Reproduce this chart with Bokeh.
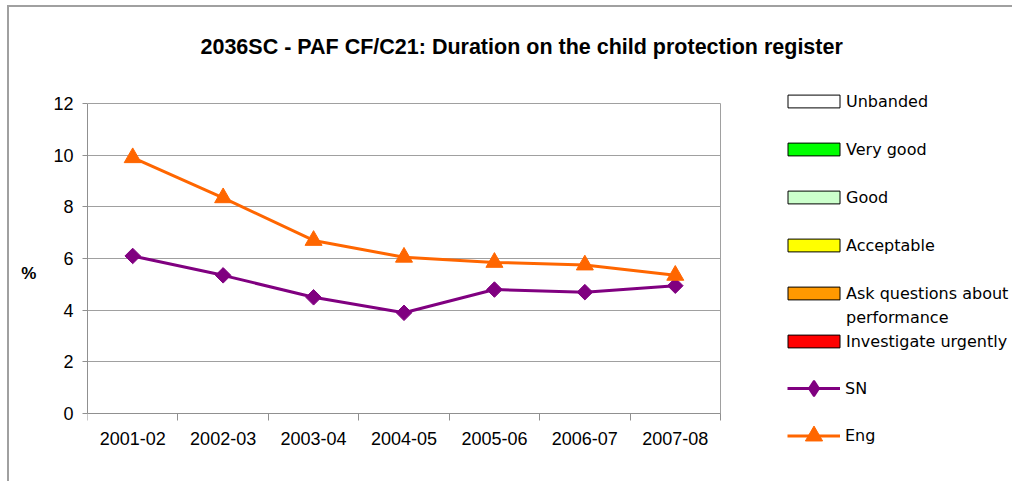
import numpy as np
from bokeh.plotting import figure
from bokeh.models import Range1d, FixedTicker, Legend, LegendItem
from bokeh.embed import file_html
from bokeh.resources import INLINE

# ---- data ----
years = ["2001-02", "2002-03", "2003-04", "2004-05", "2005-06", "2006-07", "2007-08"]
sn = [6.1, 5.35, 4.5, 3.9, 4.8, 4.7, 4.95]
eng = [9.9, 8.35, 6.7, 6.05, 5.85, 5.75, 5.35]
y_ticks = [0, 2, 4, 6, 8, 10, 12]
bands = ["Unbanded", "Very good", "Good", "Acceptable",
         "Ask questions about\nperformance", "Investigate urgently"]
band_colors = ["#FFFFFF", "#00FF00", "#CCFFCC", "#FFFF00", "#FF9900", "#FF0000"]
title_text = "2036SC - PAF CF/C21: Duration on the child protection register"

ORANGE = "#FF6600"
PURPLE = "#800080"
GRID = "#a0a0a0"
AXIS = "#909090"

n = len(years)
xs = [i + 0.5 for i in range(n)]
y_lo, y_hi = y_ticks[0], y_ticks[-1]

# ---- layout constants (pixels on the canvas) ----
W, H = 1005, 476
FL, FT, FB = 78, 75, 456          # frame left / top / bottom
AREA_W = 633                      # plot-area width (x 0..n)
AREA_TOP, AREA_BOT = 95, 406      # plot-area y of top tick and zero
ppu_y = (AREA_BOT - AREA_TOP) / (y_hi - y_lo)
y_start = y_lo - (FB - AREA_BOT) / ppu_y
y_end = y_hi + (AREA_TOP - FT) / ppu_y
x_end = n * (W - FL) / AREA_W

p = figure(width=W, height=H, output_backend="svg", toolbar_location=None,
           x_range=Range1d(0, x_end), y_range=Range1d(y_start, y_end),
           min_border_left=FL, min_border_right=0, min_border_top=FT,
           min_border_bottom=H - FB, title=title_text)
p.styles = {"border-left": "2px solid #a0a0a0", "border-top": "2px solid #a0a0a0",
            "margin-left": "7px", "margin-top": "5px"}
p.background_fill_color = "white"
p.border_fill_color = "white"
p.outline_line_color = None

p.title.text_font = "Liberation Sans"
p.title.text_font_size = "21.5px"
p.title.text_font_style = "bold"
p.title.text_color = "black"
p.title.align = "left"
p.title.offset = 113
p.title.standoff = 50

# x axis (fixed at y = 0, limited to the plot area)
p.xaxis.fixed_location = y_lo
p.xaxis.bounds = (0, n)
p.xaxis.ticker = FixedTicker(ticks=xs, minor_ticks=list(range(n + 1)))
p.xaxis.major_label_overrides = {x: y for x, y in zip(xs, years)}
p.xaxis.major_tick_out = 0
p.xaxis.major_tick_in = 0
p.xaxis.minor_tick_out = 7
p.xaxis.minor_tick_in = 0
p.xaxis.minor_tick_line_color = AXIS
p.xaxis.axis_line_color = AXIS
p.xaxis.major_label_standoff = 11

# y axis
p.yaxis.bounds = (y_lo, y_hi)
p.yaxis.ticker = FixedTicker(ticks=y_ticks)
p.yaxis.major_tick_out = 5
p.yaxis.major_tick_in = 0
p.yaxis.minor_tick_out = 0
p.yaxis.minor_tick_in = 0
p.yaxis.major_tick_line_color = AXIS
p.yaxis.axis_line_color = AXIS
p.yaxis.major_label_standoff = 9
p.yaxis.axis_label = "%"
p.yaxis.axis_label_text_font = "Liberation Sans"
p.yaxis.axis_label_text_font_size = "17px"
p.yaxis.axis_label_text_font_style = "bold"
p.yaxis.axis_label_text_color = "black"
p.yaxis.axis_label_orientation = "horizontal"
p.yaxis.axis_label_standoff = 14

for ax in (p.xaxis, p.yaxis):
    ax.major_label_text_font = "Liberation Sans"
    ax.major_label_text_font_size = "18px"
    ax.major_label_text_color = "black"

# grid: horizontal lines only across the plot area, plus its right edge
p.ygrid.ticker = FixedTicker(ticks=y_ticks)
p.ygrid.grid_line_color = GRID
p.ygrid.cross_bounds = (0, n)
p.xgrid.ticker = FixedTicker(ticks=[n])
p.xgrid.grid_line_color = GRID
p.xgrid.cross_bounds = (y_lo, y_hi)

# data series
sn_line = p.line(xs, sn, line_color=PURPLE, line_width=3)
sn_pts = p.scatter(xs, sn, marker="square", angle=np.pi / 4, size=11,
                   fill_color=PURPLE, line_color=PURPLE)
eng_line = p.line(xs, eng, line_color=ORANGE, line_width=3)
eng_pts = p.scatter(xs, eng, marker="triangle", size=17,
                    fill_color=ORANGE, line_color=ORANGE)

# legend-only glyphs (no values)
nan = np.array([np.nan])
sn_key = p.scatter(nan, nan, marker="diamond", fill_color=PURPLE,
                   line_color=PURPLE, line_width=2)
band_rs = [p.quad(left=nan, right=nan, top=nan, bottom=nan, fill_color=c,
                  line_color="black", line_width=1) for c in band_colors]
dummy = p.quad(left=nan, right=nan, top=nan, bottom=nan, fill_alpha=0, line_alpha=0)

items = []
for i, (name, r) in enumerate(zip(bands, band_rs)):
    parts = name.split("\n")
    items.append(LegendItem(label=parts[0], renderers=[r]))
    if len(parts) > 1:
        for extra in parts[1:]:
            items.append(LegendItem(label=extra, renderers=[dummy]))
    elif i < len(bands) - 1:
        items.append(LegendItem(label=" ", renderers=[dummy]))

common = dict(padding=0, margin=0, spacing=0, border_line_alpha=0,
              background_fill_alpha=0, label_text_font="DejaVu Sans",
              label_text_font_size="16px", label_text_color="black")

leg1 = Legend(items=items, location=(694, 110), glyph_width=65, glyph_height=16,
              label_height=24, label_standoff=0, **common)
leg2 = Legend(items=[LegendItem(label="SN", renderers=[sn_line, sn_key])],
              location=(700, 56), glyph_width=53, glyph_height=38,
              label_height=24, label_standoff=5, **common)
leg3 = Legend(items=[LegendItem(label="Eng", renderers=[eng_line, eng_pts])],
              location=(700, 6), glyph_width=53, glyph_height=43,
              label_height=24, label_standoff=5, **common)
for lg in (leg1, leg2, leg3):
    p.add_layout(lg)

open("out.html", "w").write(file_html(p, INLINE))
